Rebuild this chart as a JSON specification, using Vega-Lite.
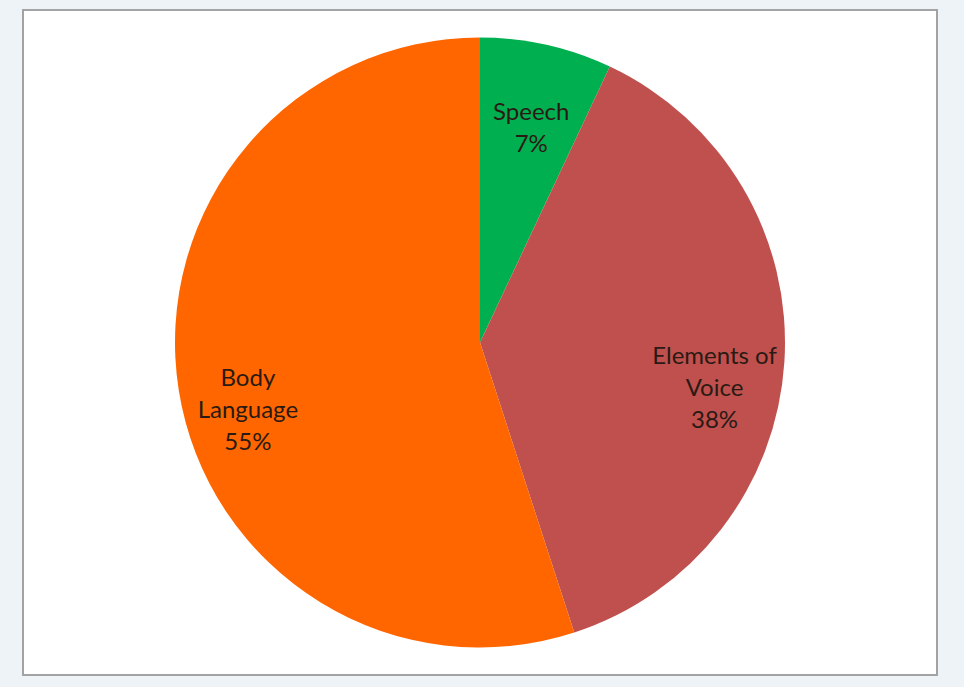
{
  "$schema": "https://vega.github.io/schema/vega-lite/v6.json",
  "width": 914,
  "height": 665,
  "autosize": {"type": "none"},
  "padding": {"left": 23, "top": 10, "right": 27, "bottom": 12},
  "background": "#eef3f8",
  "view": {"fill": "white", "stroke": "#a3a3a3", "strokeWidth": 2},
  "layer": [
    {
      "data": {"values": [{"frame": "chart area"}]},
      "mark": {"type": "rect", "fill": "white", "stroke": "#a3a3a3", "strokeWidth": 2},
      "encoding": {}
    },
    {
      "data": {
        "values": [
          {"category": "Speech", "label": "Speech\n7%", "value": 7, "order": 1},
          {"category": "Elements of Voice", "label": "Elements of\nVoice\n38%", "value": 38, "order": 2},
          {"category": "Body Language", "label": "Body\nLanguage\n55%", "value": 55, "order": 3}
        ]
      },
      "encoding": {
        "theta": {"field": "value", "type": "quantitative", "stack": true},
        "order": {"field": "order", "type": "quantitative"}
      },
      "layer": [
        {
          "mark": {"type": "arc", "outerRadius": 305},
          "encoding": {
            "color": {
              "field": "category",
              "type": "nominal",
              "scale": {
                "domain": ["Speech", "Elements of Voice", "Body Language"],
                "range": ["#00b050", "#c0504d", "#ff6600"]
              },
              "legend": null
            }
          }
        },
        {
          "mark": {
            "type": "text",
            "radius": 235,
            "lineBreak": "\n",
            "lineHeight": 32,
            "font": "Lato",
            "fontSize": 24,
            "fill": "#2a1a14",
            "align": "center",
            "baseline": "middle"
          },
          "encoding": {
            "text": {"field": "label", "type": "nominal"}
          }
        }
      ]
    }
  ]
}
